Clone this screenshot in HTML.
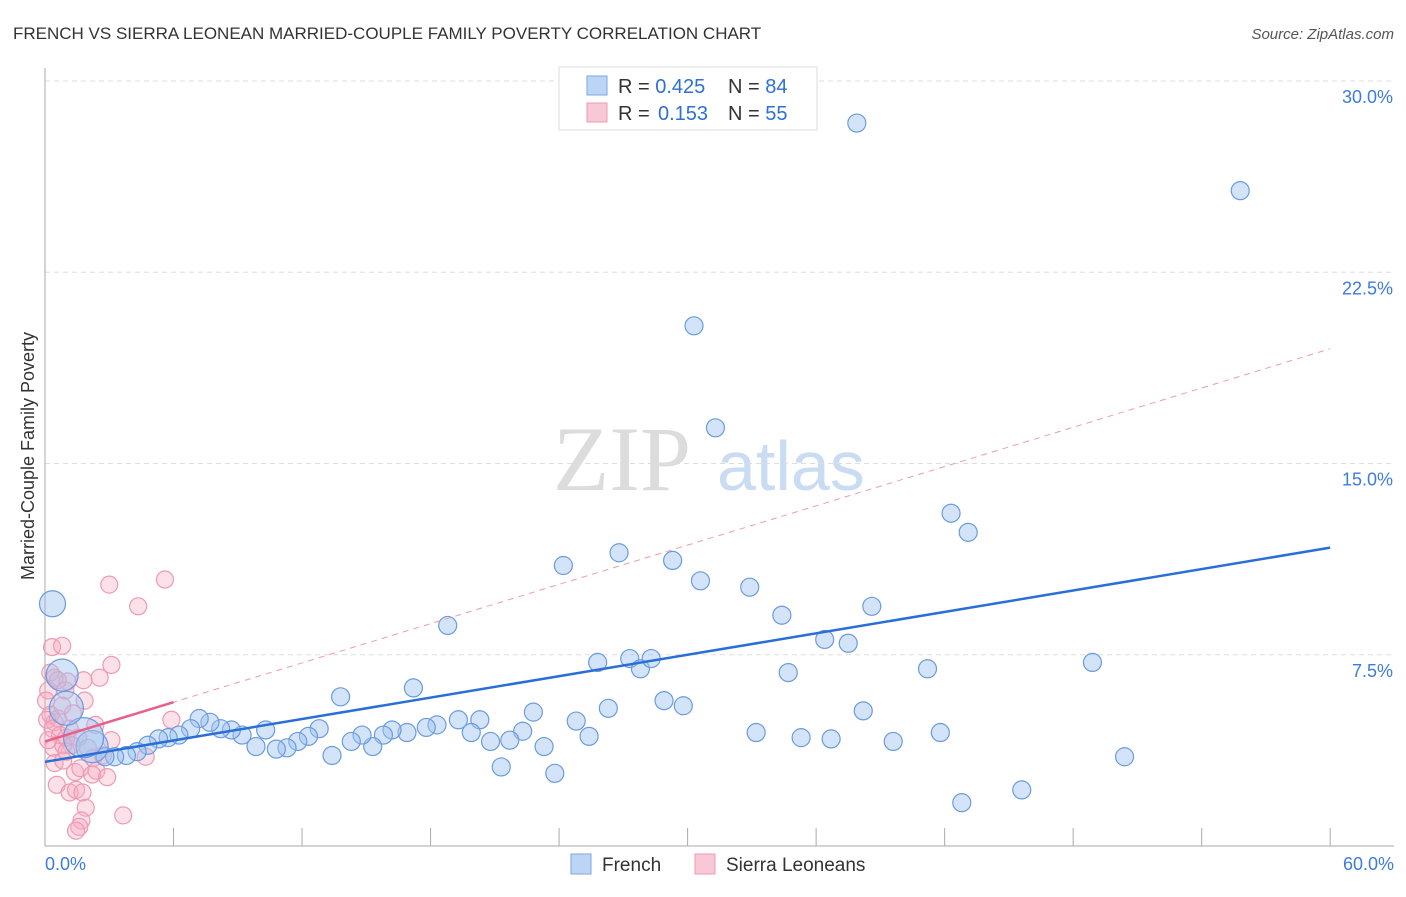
<!DOCTYPE html>
<html><head><meta charset="utf-8"><style>
body{margin:0;background:#fff;font-family:"Liberation Sans",sans-serif}
</style></head><body>
<svg id="c" width="1406" height="892" xmlns="http://www.w3.org/2000/svg">
<text x="13" y="39" font-size="17" fill="#333">FRENCH VS SIERRA LEONEAN MARRIED-COUPLE FAMILY POVERTY CORRELATION CHART</text>
<text x="1394" y="39" font-size="15" fill="#555" font-style="italic" text-anchor="end">Source: ZipAtlas.com</text>
<text transform="translate(34,456) rotate(-90)" font-size="18" fill="#333" text-anchor="middle">Married-Couple Family Poverty</text>
<g><text x="553" y="490" font-family="Liberation Serif,serif" font-size="92" fill="#dcdcdc">ZIP</text><text x="717" y="490" font-size="70" fill="#c9dcf3">atlas</text></g>
<g id="grid"></g><g id="marks"></g>
<g>
<rect x="559" y="67" width="258" height="63" fill="#fff" stroke="#ddd"/>
<rect x="587" y="76" width="20" height="19" fill="#bcd5f5" stroke="#7aa6e0"/>
<rect x="587" y="103" width="20" height="19" fill="#f9c8d6" stroke="#ee9ab2"/>
<text x="618" y="93" font-size="20" fill="#333">R = <tspan fill="#2f6fd6">0.425</tspan><tspan x="728">N = </tspan><tspan fill="#2f6fd6">84</tspan></text>
<text x="618" y="120" font-size="20" fill="#333">R = <tspan x="658" fill="#2f6fd6">0.153</tspan><tspan x="728">N = </tspan><tspan fill="#2f6fd6">55</tspan></text>
</g>
<g>
<rect x="571" y="854" width="20" height="20" fill="#bcd5f5" stroke="#7aa6e0"/>
<text x="602" y="871" font-size="19" fill="#333">French</text>
<rect x="695" y="854" width="20" height="20" fill="#f9c8d6" stroke="#ee9ab2"/>
<text x="726" y="871" font-size="19" fill="#333">Sierra Leoneans</text>
</g>
</svg>
<script>
const xTicks=[0,6,12,18,24,30,36,42,48,54,60];
const yTicks=[7.5,15,22.5,30];
const yTickLabels=["7.5%","15.0%","22.5%","30.0%"];
const xEndLabels=["0.0%","60.0%"];
const frenchX=[37.9,55.8,30.3,31.3,42.3,43.1,24.2,26.8,29.3,30.6,32.9,34.4,38.6,36.4,37.5,18.8,25.8,27.3,27.8,28.3,34.7,41.2,48.9,13.8,17.2,28.9,29.8,26.3,22.8,38.2,24.8,33.2,41.8,35.3,36.7,39.6,25.4,22.3,20.3,19.3,18.3,17.8,19.9,20.8,21.7,23.3,21.3,23.8,50.4,42.8,45.6,16.9,16.2,15.8,15.3,14.8,14.3,13.4,12.8,12.3,11.8,11.3,10.8,10.3,9.85,9.2,8.7,8.2,7.7,7.2,6.8,6.25,5.75,5.3,4.8,4.3,3.8,3.25,2.8,2.2,1.8,1.0,0.8,0.35];
const frenchY=[28.35,25.7,20.4,16.4,13.05,12.3,11.0,11.5,11.2,10.4,10.15,9.05,9.4,8.1,7.95,8.65,7.2,7.35,6.95,7.35,6.8,6.95,7.2,5.85,6.2,5.7,5.5,5.4,5.25,5.3,4.9,4.45,4.45,4.25,4.2,4.1,4.3,4.5,4.95,4.95,4.75,4.65,4.45,4.1,4.15,3.9,3.1,2.85,3.5,1.7,2.2,4.45,4.55,4.35,3.9,4.35,4.1,3.55,4.6,4.3,4.1,3.85,3.8,4.55,3.9,4.35,4.55,4.6,4.85,5.0,4.6,4.35,4.25,4.2,3.95,3.7,3.55,3.5,3.5,3.9,4.25,5.4,6.7,9.5];
const frenchR=[9,9,9,9,9,9,9,9,9,9,9,9,9,9,9,9,9,9,9,9,9,9,9,9,9,9,9,9,9,9,9,9,9,9,9,9,9,9,9,9,9,9,9,9,9,9,9,9,9,9,9,9,9,9,9,9,9,9,9,9,9,9,9,9,9,9,9,9,9,9,9,9,9,9,9,9,9,9,9,16,20,17,16,13];
const sierraX=[0.33,0.8,3.1,0.25,0.45,1.05,0.95,1.8,2.55,0.15,0.05,0.25,0.45,0.6,0.1,0.35,1.3,0.7,0.4,1.25,0.85,1.0,1.55,0.45,0.85,1.4,1.65,2.25,2.0,2.4,2.2,2.9,0.55,1.15,1.45,1.75,1.9,1.7,1.6,1.45,3.65,3.1,2.7,3.0,5.6,4.35,5.9,4.7,0.6,0.8,1.15,1.85,0.15,2.35,1.0];
const sierraY=[7.8,7.85,7.1,6.8,6.6,6.45,6.1,6.5,6.6,6.1,5.7,5.15,4.85,5.0,4.95,4.6,5.2,4.35,3.85,3.95,3.95,4.25,4.25,3.25,3.35,2.9,3.05,3.45,3.85,2.95,2.8,2.7,2.4,2.1,2.2,2.1,1.5,1.0,0.75,0.6,1.2,4.15,3.55,10.25,10.45,9.4,4.95,3.5,6.5,5.5,4.6,5.7,4.15,4.75,3.7];
const frenchTrend=[3.3,11.7];
const sierraTrend=[4.1,19.5];
const X=v=>45+v*21.42, Y=v=>846-v*25.5;
const NS="http://www.w3.org/2000/svg";
function mk(t,a,p){const e=document.createElementNS(NS,t);for(const k in a)e.setAttribute(k,a[k]);p.appendChild(e);return e;}
const g=document.getElementById('grid'),m=document.getElementById('marks');
yTicks.forEach((v,i)=>{
 const l=mk('line',{x1:45,x2:1394,y1:Y(v),y2:Y(v),stroke:'#ddd','stroke-dasharray':'5,4'},g);
 
 
 const t=mk('text',{x:1393,y:Y(v)+22,'font-size':18,fill:'#3d7be0','text-anchor':'end'},g);t.textContent=yTickLabels[i];
 
 
});
const ax=mk('line',{x1:45,x2:1394,y1:846,y2:846,stroke:'#aaa'},g);


const ay=mk('line',{x1:45,x2:45,y1:68,y2:846,stroke:'#aaa'},g);


xTicks.forEach(v=>{const l=mk('line',{x1:X(v),x2:X(v),y1:828,y2:846,stroke:'#aaa'},g);
 
 });
[[0,'start',45],[60,'end',1394]].forEach((a,i)=>{const t=mk('text',{x:a[2],y:870,'font-size':18,fill:'#3d7be0','text-anchor':a[1]},g);t.textContent=xEndLabels[i];
 
 });
sierraX.forEach((x,i)=>{const c=mk('circle',{cx:X(x),cy:Y(sierraY[i]),r:8.5,fill:'rgba(246,168,192,0.35)',stroke:'#ee9ab2','stroke-width':1.2},m);
 
 });
frenchX.forEach((x,i)=>{const c=mk('circle',{cx:X(x),cy:Y(frenchY[i]),r:frenchR[i],fill:'rgba(160,196,240,0.45)',stroke:'#6a9be0','stroke-width':1.2},m);
 
 });
const sd=mk('line',{x1:X(0),y1:Y(sierraTrend[0]),x2:X(60),y2:Y(sierraTrend[1]),stroke:'#ee9ab2','stroke-dasharray':'6,5','stroke-width':1},m);


const s6=sierraTrend[0]+(sierraTrend[1]-sierraTrend[0])*6/60;
const ss=mk('line',{x1:X(0),y1:Y(sierraTrend[0]),x2:X(6),y2:Y(s6),stroke:'#e8608a','stroke-width':2.5},m);


const ft=mk('line',{x1:X(0),y1:Y(frenchTrend[0]),x2:X(60),y2:Y(frenchTrend[1]),stroke:'#2a6fd6','stroke-width':2.5},m);


</script>
</body></html>
